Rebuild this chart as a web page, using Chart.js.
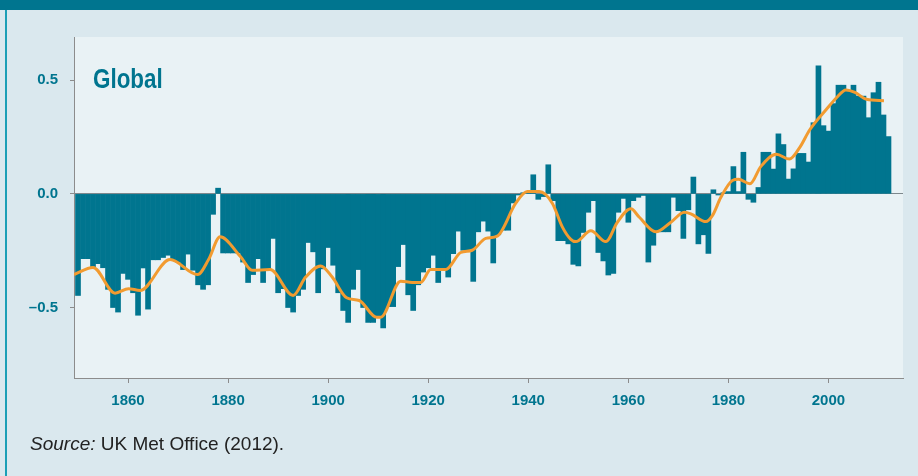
<!DOCTYPE html>
<html>
<head>
<meta charset="utf-8">
<title>Global temperature anomaly</title>
<script src="https://cdn.jsdelivr.net/npm/chart.js@4.4.1/dist/chart.umd.min.js"></script>
<style>
  body {
    margin: 0;
    width: 918px;
    height: 476px;
    overflow: hidden;
    position: relative;
    background: #dae8ee;
    font-family: "Liberation Sans", Arial, sans-serif;
  }
  #topBand { position: absolute; left: 0; top: 0; width: 918px; height: 10px; background: #00758f; }
  #leftRule { position: absolute; left: 5px; top: 10px; width: 2px; height: 466px; background: #1c9fb6; }
  #chartBox { position: absolute; left: 0; top: 0; width: 918px; height: 476px; }
  #globalLabel {
    position: absolute; left: 93px; top: 64px;
    font: bold 27px "Liberation Sans", Arial, sans-serif;
    color: #00758f;
    transform: scaleX(0.83);
    transform-origin: left top;
  }
  #source { position: absolute; left: 30px; top: 433px; font-size: 19px; color: #222; }
</style>
</head>
<body>
<div id="topBand"></div>
<div id="leftRule"></div>
<div id="chartBox"><canvas id="tempChart" width="918" height="476"></canvas></div>
<div id="globalLabel">Global</div>
<div id="source"><i>Source:</i> UK Met Office (2012).</div>

<script>
// Annual anomalies (°C), one per year starting at firstYear
const firstYear = 1850;
const anomalies = [
  -0.447, -0.285, -0.285, -0.32, -0.307, -0.325, -0.42, -0.50, -0.52, -0.35,   // 1850s
  -0.376, -0.435, -0.534, -0.326, -0.507, -0.29, -0.29, -0.28, -0.27, -0.29,   // 1860s
  -0.30, -0.333, -0.265, -0.336, -0.40, -0.42, -0.40, -0.09, 0.025, -0.26,     // 1870s
  -0.26, -0.26, -0.26, -0.30, -0.39, -0.355, -0.285, -0.39, -0.336, -0.196,    // 1880s
  -0.435, -0.417, -0.50, -0.52, -0.447, -0.42, -0.214, -0.255, -0.435, -0.33,  // 1890s
  -0.236, -0.314, -0.435, -0.513, -0.566, -0.42, -0.333, -0.50, -0.566, -0.566,// 1900s
  -0.543, -0.59, -0.496, -0.496, -0.32, -0.223, -0.444, -0.513, -0.40, -0.344, // 1910s
  -0.325, -0.27, -0.39, -0.336, -0.366, -0.263, -0.164, -0.248, -0.248, -0.385,// 1920s
  -0.167, -0.12, -0.164, -0.304, -0.18, -0.16, -0.16, -0.04, -0.005, 0.005,    // 1930s
  0.01, 0.084, -0.024, -0.012, 0.128, -0.03, -0.206, -0.206, -0.22, -0.31,     // 1940s
  -0.317, -0.17, -0.081, -0.03, -0.258, -0.295, -0.357, -0.35, -0.081, -0.02,  // 1950s
  -0.125, -0.03, -0.015, -0.007, -0.30, -0.226, -0.167, -0.167, -0.167, -0.015,// 1960s
  -0.074, -0.196, -0.07, 0.074, -0.22, -0.18, -0.262, 0.018, -0.005, 0.005,    // 1970s
  0.01, 0.12, 0.01, 0.183, -0.024, -0.037, 0.028, 0.183, 0.183, 0.109,         // 1980s
  0.264, 0.217, 0.065, 0.11, 0.178, 0.178, 0.14, 0.313, 0.563, 0.30,           // 1990s
  0.276, 0.397, 0.478, 0.478, 0.455, 0.478, 0.43, 0.43, 0.335, 0.445,          // 2000s
  0.491, 0.347, 0.252                                                          // 2010-2012
];

// Smoothed curve
const smoothYears = [
  1849.2, 1853.0, 1857.4, 1860.1, 1862.4, 1868.4, 1873.9, 1876.1, 1878.4, 1882.5,
  1884.8, 1888.4, 1893.0, 1895.5, 1898.5, 1900.8, 1903.7, 1906.2, 1909.7, 1910.5,
  1914.5, 1916.8, 1918.5, 1920.5, 1923.5, 1926.5, 1928.8, 1931.5, 1933.8, 1937.5,
  1939.8, 1942.2, 1944.8, 1946.8, 1948.5, 1949.5, 1952.5, 1955.5, 1957.8, 1960.5,
  1962.2, 1965.5, 1968.5, 1971.2, 1972.5, 1975.5, 1976.8, 1978.5, 1980.8, 1982.0,
  1984.3, 1986.5, 1989.6, 1992.2, 1994.2, 1996.3, 1999.6, 2001.6, 2003.5, 2005.3,
  2007.6, 2011.1
];
const smoothValues = [
  -0.355, -0.324, -0.437, -0.417, -0.425, -0.289, -0.355, -0.289, -0.189, -0.277,
  -0.336, -0.333, -0.447, -0.366, -0.317, -0.366, -0.457, -0.469, -0.543, -0.543,
  -0.384, -0.39, -0.39, -0.333, -0.333, -0.258, -0.248, -0.196, -0.186, -0.041,
  0.01, 0.01, -0.041, -0.145, -0.20, -0.21, -0.162, -0.21, -0.125, -0.066,
  -0.103, -0.167, -0.125, -0.081, -0.088, -0.122, -0.096, -0.015, 0.059, 0.064,
  0.044, 0.121, 0.174, 0.153, 0.202, 0.283, 0.372, 0.423, 0.457, 0.446,
  0.416, 0.41
];

const xTickYears = [1860, 1880, 1900, 1920, 1940, 1960, 1980, 2000];
const yTickValues = [-0.5, 0, 0.5];
const yTickLabels = ['\u20130.5', '0.0', '0.5'];

const TEAL = '#00758f';
const ORANGE = '#f29b30';
const AXIS_GREY = '#8c8c8c';
const tickFont = { family: '"Liberation Sans", Arial, sans-serif', size: 15, weight: 'bold' };

// light panel behind the plot
const plotBackground = {
  id: 'plotBackground',
  beforeDraw(chart) {
    const { ctx, chartArea: a } = chart;
    ctx.save();
    ctx.fillStyle = '#e9f2f5';
    ctx.fillRect(a.left, a.top, a.right - a.left, a.bottom - a.top);
    ctx.restore();
  }
};

const barPoints = anomalies.map((v, i) => ({ x: firstYear + i, y: v }));
const linePoints = smoothYears.map((yr, i) => ({ x: yr, y: smoothValues[i] }));

new Chart(document.getElementById('tempChart'), {
  type: 'bar',
  data: {
    datasets: [
      {
        type: 'line',
        label: 'Smoothed',
        data: linePoints,
        borderColor: ORANGE,
        borderWidth: 3,
        pointRadius: 0,
        cubicInterpolationMode: 'monotone',
        fill: false,
        order: 0
      },
      {
        type: 'bar',
        label: 'Annual',
        data: barPoints,
        backgroundColor: TEAL,
        borderWidth: 0,
        barPercentage: 1,
        categoryPercentage: 1,
        order: 1
      }
    ]
  },
  options: {
    responsive: false,
    animation: false,
    layout: { padding: { left: 0, top: 37, right: 15, bottom: 58 } },
    plugins: { legend: { display: false }, tooltip: { enabled: false } },
    scales: {
      x: {
        type: 'linear',
        offset: false,
        min: 1849.2,
        max: 2014.9,
        afterBuildTicks: s => { s.ticks = xTickYears.map(v => ({ value: v })); },
        afterFit: s => { s.height = 40; },
        ticks: {
          callback: v => String(v),
          color: TEAL,
          font: tickFont,
          padding: 9,
          maxRotation: 0,
          autoSkip: false
        },
        grid: { offset: false, drawOnChartArea: false, tickLength: 5, tickColor: AXIS_GREY },
        border: { color: AXIS_GREY }
      },
      y: {
        min: -0.81,
        max: 0.69,
        afterBuildTicks: s => { s.ticks = yTickValues.map(v => ({ value: v })); },
        afterFit: s => { s.width = 74; },
        ticks: {
          callback: v => yTickLabels[yTickValues.indexOf(v)],
          color: TEAL,
          font: tickFont,
          padding: 12
        },
        grid: {
          color: c => (c.tick && c.tick.value === 0 ? '#7d888d' : 'rgba(0,0,0,0)'),
          tickColor: AXIS_GREY,
          tickLength: 4
        },
        border: { color: AXIS_GREY }
      }
    }
  },
  plugins: [plotBackground]
});
</script>
</body>
</html>
